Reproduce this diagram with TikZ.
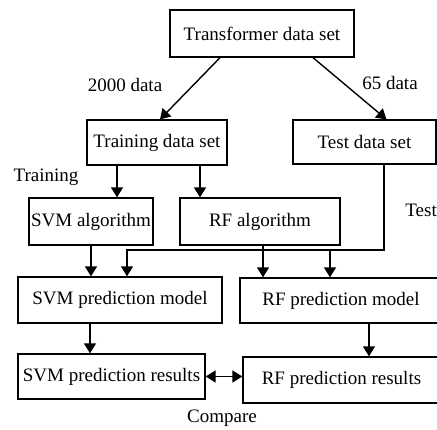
\documentclass[tikz,border=0pt]{standalone}
\usepackage{fontspec}
\setmainfont{Liberation Serif}
\usepackage{tikz}
\usetikzlibrary{calc, positioning, arrows.meta}

\begin{document}
\begin{tikzpicture}[x=1pt, y=-1pt,
        every node/.style={font=\fontsize{19}{22}\selectfont},
        block/.style={draw, line width=1.3pt, inner sep=1pt, align=center},
        arr/.style={line width=1.4pt, -{Triangle[length=10pt,width=12pt]}}]
        \useasboundingbox (0,0) rectangle (437,430);
        % boxes
        \node[block, minimum width=184pt, minimum height=47pt] (tds) at (262,33.5) {Transformer data set};
        \node[block, minimum width=140pt, minimum height=45pt] (train) at (157,142.5) {Training data set};
        \node[block, minimum width=143pt, minimum height=44pt] (test) at (364.5,142) {Test data set};
        \node[block, minimum width=124pt, minimum height=47pt] (svmalg) at (91,221.5) {SVM algorithm};
        \node[block, minimum width=160pt, minimum height=47pt] (rfalg) at (260,221.5) {RF algorithm};
        \node[block, minimum width=204pt, minimum height=46pt] (svmmod) at (120,300) {SVM prediction model};
        \node[block, minimum width=202pt, minimum height=45pt] (rfmod) at (341,300.5) {RF prediction model};
        \node[block, minimum width=187pt, minimum height=45pt] (svmres) at (111.5,376.5) {SVM prediction results};
        \node[block, minimum width=197pt, minimum height=46pt] (rfres) at (341.5,380) {RF prediction results};
        % labels
        \node (ntrain) at (125,85) {2000 data};
        \node (ntest) at (390,83) {65 data};
        \node (ltrain) at (46,177) {Training};
        \node[anchor=east, inner xsep=0pt] (ltest) at (437,210) {Test};
        \node (lcmp) at (222,418) {Compare};
        % split of the data
        \draw[arr] ([xshift=-42pt]tds.south) -- ([xshift=3pt]train.north);
        \draw[arr] ([xshift=51pt]tds.south) -- ([xshift=22pt]test.north);
        % training
        \draw[arr] ([xshift=-40pt]train.south) -- ([xshift=-40pt]train.south |- svmalg.north);
        \draw[arr] ([xshift=43pt]train.south) -- ([xshift=43pt]train.south |- rfalg.north);
        \draw[arr] (svmalg.south) -- (svmalg.south |- svmmod.north);
        \draw[arr] ([xshift=3pt]rfalg.south) -- ([xshift=3pt]rfalg.south |- rfmod.north);
        % test data
        \coordinate (bus) at (384,250);
        \draw[arr] (test.south -| bus) -- (bus) -| ([xshift=7pt]svmmod.north);
        \draw[arr] ([xshift=-11pt]rfmod.north |- bus) -- ([xshift=-11pt]rfmod.north);
        % results
        \draw[arr] ([xshift=-30pt]svmmod.south) -- ([xshift=-30pt]svmmod.south |- svmres.north);
        \draw[arr] ([xshift=28pt]rfmod.south) -- ([xshift=28pt]rfmod.south |- rfres.north);
        \draw[arr, {Triangle[length=10pt,width=12pt]}-{Triangle[length=10pt,width=12pt]}] (svmres.east) -- (svmres.east -| rfres.west);
\end{tikzpicture}
\end{document}
